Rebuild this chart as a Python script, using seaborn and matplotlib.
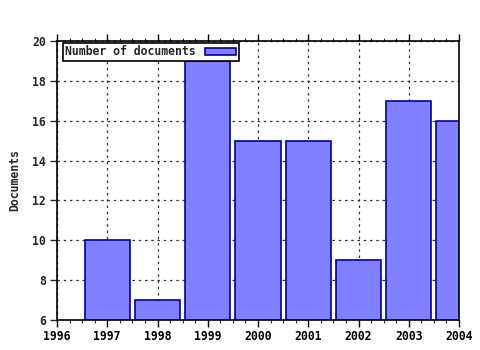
import matplotlib
matplotlib.use("Agg")
import matplotlib.pyplot as plt
import seaborn as sns
import pandas as pd
from matplotlib.ticker import MultipleLocator

years = [1997, 1998, 1999, 2000, 2001, 2002, 2003, 2004]
documents = [10, 7, 19, 15, 15, 9, 17, 16]
series_label = "Number of documents"
x_ticks = [1996, 1997, 1998, 1999, 2000, 2001, 2002, 2003, 2004]
y_ticks = [6, 8, 10, 12, 14, 16, 18, 20]

df = pd.DataFrame({"year": years, "docs": documents})

sns.set_style("white")
plt.rcParams['font.family'] = ['DejaVu Sans Mono']
plt.rcParams['font.weight'] = 'bold'

fig = plt.figure(figsize=(4.8, 3.5), dpi=100)
ax = fig.add_axes([57/480, 30/350, 402/480, 279/350])

sns.barplot(data=df, x="year", y="docs", native_scale=True, width=0.9,
            color="#8080ff", edgecolor="#0000a0", linewidth=1.2,
            saturation=1, label=series_label, ax=ax, zorder=2)

ax.set_xlim(1996, 2004)
ax.set_ylim(6, 20)
ax.set_xticks(x_ticks)
ax.set_xticklabels([str(t) for t in x_ticks])
ax.set_yticks(y_ticks)
ax.set_yticklabels([str(t) for t in y_ticks])
ax.xaxis.set_minor_locator(MultipleLocator(0.25))

ax.grid(True, which="major", color="#333333", linestyle=(0, (2, 3)), linewidth=0.9, zorder=0)
ax.set_axisbelow(True)

for s in ax.spines.values():
    s.set_visible(True)
    s.set_color("black")
    s.set_linewidth(1.2)

ax.tick_params(axis="x", which="major", direction="out", length=5, width=1,
               top=True, bottom=True, labelsize=8.3, pad=2, colors="black")
ax.tick_params(axis="x", which="minor", direction="out", length=2.5, width=0.8,
               top=True, bottom=True)
ax.tick_params(axis="y", which="major", direction="out", length=5, width=1,
               left=True, labelsize=8.3, pad=3)
for lab in ax.get_xticklabels() + ax.get_yticklabels():
    lab.set_fontweight("bold")

ax.set_xlabel("")
ax.set_ylabel("Documents", fontsize=8.3, fontweight="bold", labelpad=8)

leg = ax.legend(loc="upper left", bbox_to_anchor=(6/402, 1 - 2/279),
                markerfirst=False, fancybox=False,
                edgecolor="black", framealpha=1, borderaxespad=0,
                prop={"family": "DejaVu Sans Mono", "weight": "bold", "size": 8.3},
                handlelength=2.7, handleheight=0.55, borderpad=0.2,
                handletextpad=0.8)
leg.get_frame().set_linewidth(1.2)

fig.savefig("out.png", dpi=100)
